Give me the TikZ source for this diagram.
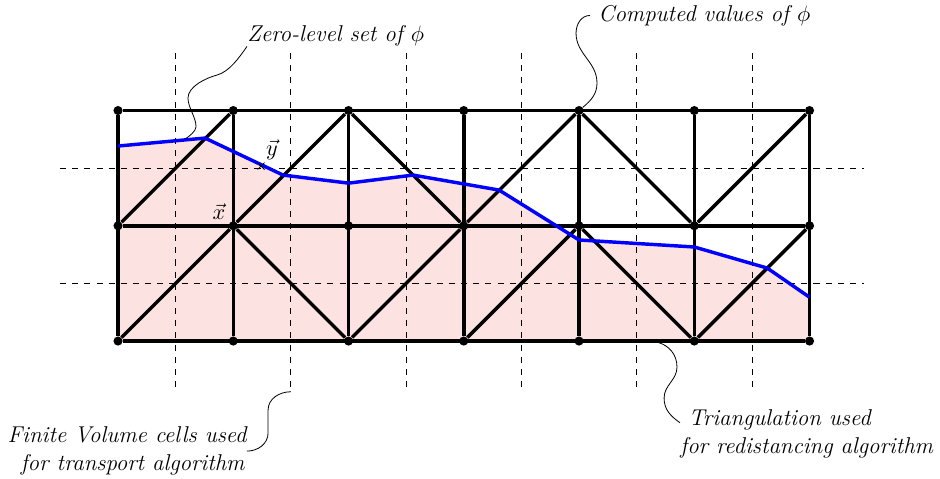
\documentclass[tikz,border=0pt]{standalone}
\usetikzlibrary{shapes.misc}
\definecolor{levelset}{RGB}{253,226,226}
\definecolor{zerolevel}{RGB}{0,0,255}
\newcommand{\annotsize}{\fontsize{11.3}{13.7}\selectfont}
\tikzset{
	gridpoint/.style={circle, fill=black, inner sep=0pt, minimum size=4.5pt},
	meshline/.style={line width=1.7pt, line join=round},
	celldash/.style={dashed, black},
	leader/.style={thin},
	annot/.style={font=\annotsize\itshape, inner sep=0pt}
}
\begin{document}
\begin{tikzpicture}[x=2cm, y=2cm]
		\useasboundingbox (-1.024, -1.197) rectangle (7.132, 2.959);
		% region below the zero-level set
		\coordinate (c0) at (0, 1.692);
		\coordinate (c1) at (0.755, 1.761);
		\coordinate (c2) at (1.432, 1.44);
		\coordinate (c3) at (2, 1.37);
		\coordinate (c4) at (2.56, 1.44);
		\coordinate (c5) at (3.306, 1.31);
		\coordinate (c6) at (4, 0.877);
		\coordinate (c7) at (5, 0.816);
		\coordinate (c8) at (5.633, 0.633);
		\coordinate (c9) at (6, 0.38);
		\fill[levelset] (c0) -- (c1) -- (c2) -- (c3) -- (c4) -- (c5) -- (c6) -- (c7) -- (c8) -- (c9) -- (6, 0) -- (0, 0) -- cycle;
		% finite volume cells
		\foreach \i in {0,...,5} {
			\coordinate (vt\i) at ({\i + 0.5}, 2.5);
			\coordinate (vb\i) at ({\i + 0.5}, -0.44);
			\draw[celldash] (vt\i) -- (vb\i);
		}
		\foreach \j in {0,1} {
			\coordinate (hl\j) at (-0.503, {\j + 0.5});
			\coordinate (hr\j) at (6.47, {\j + 0.5});
			\draw[celldash] (hl\j) -- (hr\j);
		}
		% mesh points
		\foreach \i in {0,...,6}
			\foreach \j in {0,1,2}
				\node[gridpoint] (p\i\j) at (\i, \j) {};
		% triangulation
		\foreach \j in {0,1,2}
			\draw[meshline] (p0\j) -- (p6\j);
		\foreach \i in {0,...,6}
			\draw[meshline] (p\i0) -- (p\i2);
		\foreach \a/\b in {p01/p12, p11/p22, p22/p31, p31/p42, p42/p51, p51/p62,
				p00/p11, p11/p20, p20/p31, p30/p41, p41/p50, p50/p61}
			\draw[meshline] (\a) -- (\b);
		% zero-level set
		\draw[meshline, zerolevel] (c0) -- (c1) -- (c2) -- (c3) -- (c4) -- (c5) -- (c6) -- (c7) -- (c8) -- (c9);
		% points of the projection
		\node[cross out, draw, thin, inner sep=0pt, minimum size=3pt] (ymark) at (1.241, 1.518) {};
		\node[font=\annotsize] (xlabel) at (0.876, 1.119) {$\vec{x}$};
		\node[font=\annotsize] (ylabel) at (1.336, 1.657) {$\vec{y}$};
		% annotations
		\node[annot, anchor=west] (zerolabel) at (1.119, 2.65) {Zero-level set of $\phi$};
		\node[annot, anchor=west, inner sep=4pt] (computedlabel) at (4.095, 2.825) {Computed values of $\phi$};
		\node[annot, anchor=east, align=right] (finitelabel) at (1.119, -0.955) {Finite Volume cells used\\for transport algorithm\hspace*{1pt}};
		\node[annot, anchor=west, align=left] (trilabel) at (4.876, -0.805) {\hspace*{4pt}Triangulation used\\for redistancing algorithm};
		\coordinate (zeroend) at (0.581, 1.753);
		\coordinate (triend) at (4.677, -0.009);
		\draw[leader] (zerolabel.south west) to[out=-125, in=15, looseness=0.8] (0.859, 2.308) to[out=195, in=90, looseness=0.8] (0.607, 2.108) to[out=-90, in=90, looseness=0.8] (0.677, 1.86) to[out=-90, in=30, looseness=0.7] (zeroend);
		\draw[leader] (computedlabel.west) to[out=180, in=90] (3.974, 2.672) to[out=-90, in=90] (4.156, 2.239) to[out=-90, in=40] (p42);
		\draw[leader] (vb1) to[out=180, in=90] (1.302, -0.599) to[out=-90, in=90] (1.302, -0.798) to[out=-90, in=0] (finitelabel.east);
		\draw[leader] (triend) to[out=-15, in=90] (4.85, -0.226) to[out=-90, in=90] (4.738, -0.495) to[out=-90, in=145] (trilabel.175);
	\end{tikzpicture}
\end{document}
